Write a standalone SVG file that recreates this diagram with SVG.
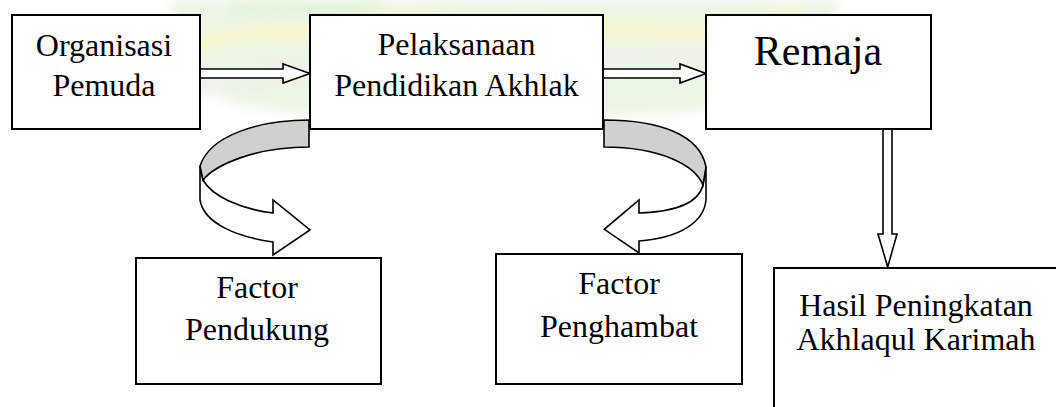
<svg xmlns="http://www.w3.org/2000/svg" width="1056" height="407" viewBox="0 0 1056 407">
  <style>
    .box { fill: #ffffff; stroke: #000000; stroke-width: 2; }
    .txt { font-family: 'Liberation Serif', 'DejaVu Serif', serif; font-size: 32px; fill: #000000; text-anchor: middle; }
    .big { font-size: 42px; }
    .arr { fill: #ffffff; stroke: #000000; stroke-width: 1.6; stroke-linejoin: miter; }
    .band { fill: #d0d0d0; stroke: #000000; stroke-width: 1.6; }
  </style>
  <defs>
    <filter id="soft" x="-10%" y="-50%" width="120%" height="200%">
      <feGaussianBlur stdDeviation="6"/>
    </filter>
  </defs>
  <rect x="0" y="0" width="1056" height="407" fill="#ffffff"/>
  <g id="watermark" filter="url(#soft)" opacity="0.55">
    <path d="M170,0 L840,0 C830,60 780,100 700,110 C560,125 350,125 240,105 C190,90 170,50 170,0 Z" fill="#dcefcf"/>
    <path d="M175,55 C240,20 300,40 360,25 C430,8 480,40 560,30 C640,20 700,45 800,15" fill="none" stroke="#f3efa6" stroke-width="16"/>
    <path d="M190,95 C250,60 320,80 400,60 C470,45 530,75 610,60 C690,48 740,70 820,40" fill="none" stroke="#e4e4dc" stroke-width="14"/>
    <path d="M230,10 C280,0 330,15 380,5" fill="none" stroke="#c8e8b8" stroke-width="12"/>
  </g>

  <g id="connectors">
    <polygon id="arrow-org-pel" class="arr" points="200,69 283,69 283,64 310,73.5 283,83 283,78 200,78"/>
    <polygon id="arrow-pel-rem" class="arr" points="603,69 680,69 680,64 706,73.5 680,83 680,78 603,78"/>
    <polygon id="arrow-rem-hasil" class="arr" points="883,129 892,129 892,234 897,234 887.7,267 878,234 883,234"/>
    <g id="curve-left">
      <path class="arr" d="M203,180 C212,196 240,209 273,213 L273,200 L310,230 L273,255 L273,242 C238,237 204,224 200,200 L200,166 Z"/>
      <path class="band" d="M309,120 C260,120 210,135 200,166 L203,180 C215,165 255,147 309,147 Z"/>
    </g>
    <g id="curve-right">
      <path class="arr" d="M703,185 C698,205 670,212 639,213 L639,200 L604.3,229.3 L639,253 L639,241 C680,238 704,222 706,200 L706,167 Z"/>
      <path class="band" d="M604,120 C660,120 700,135 706,167 L703,185 C695,165 660,147 604,147 Z"/>
    </g>
  </g>

  <g id="node-organisasi">
    <rect class="box" x="12" y="15" width="188" height="114"/>
    <text class="txt" font-family="Liberation Serif, serif" x="104" y="56">Organisasi</text>
    <text class="txt" font-family="Liberation Serif, serif" x="104" y="96">Pemuda</text>
  </g>
  <g id="node-pelaksanaan">
    <rect class="box" x="310" y="15" width="293" height="114"/>
    <text class="txt" x="456.5" y="55">Pelaksanaan</text>
    <text class="txt" x="456.5" y="96">Pendidikan Akhlak</text>
  </g>
  <g id="node-remaja">
    <rect class="box" x="706" y="15" width="225" height="114"/>
    <text class="txt big" x="818" y="65">Remaja</text>
  </g>
  <g id="node-pendukung">
    <rect class="box" x="136" y="258" width="245" height="126"/>
    <text class="txt" x="257" y="298">Factor</text>
    <text class="txt" x="257" y="340">Pendukung</text>
  </g>
  <g id="node-penghambat">
    <rect class="box" x="496" y="254" width="246" height="130"/>
    <text class="txt" x="619" y="294">Factor</text>
    <text class="txt" x="619" y="337">Penghambat</text>
  </g>
  <g id="node-hasil">
    <rect class="box" x="774" y="268" width="284" height="150"/>
    <text class="txt" x="916" y="316">Hasil Peningkatan</text>
    <text class="txt" x="916" y="350">Akhlaqul Karimah</text>
  </g>
</svg>
